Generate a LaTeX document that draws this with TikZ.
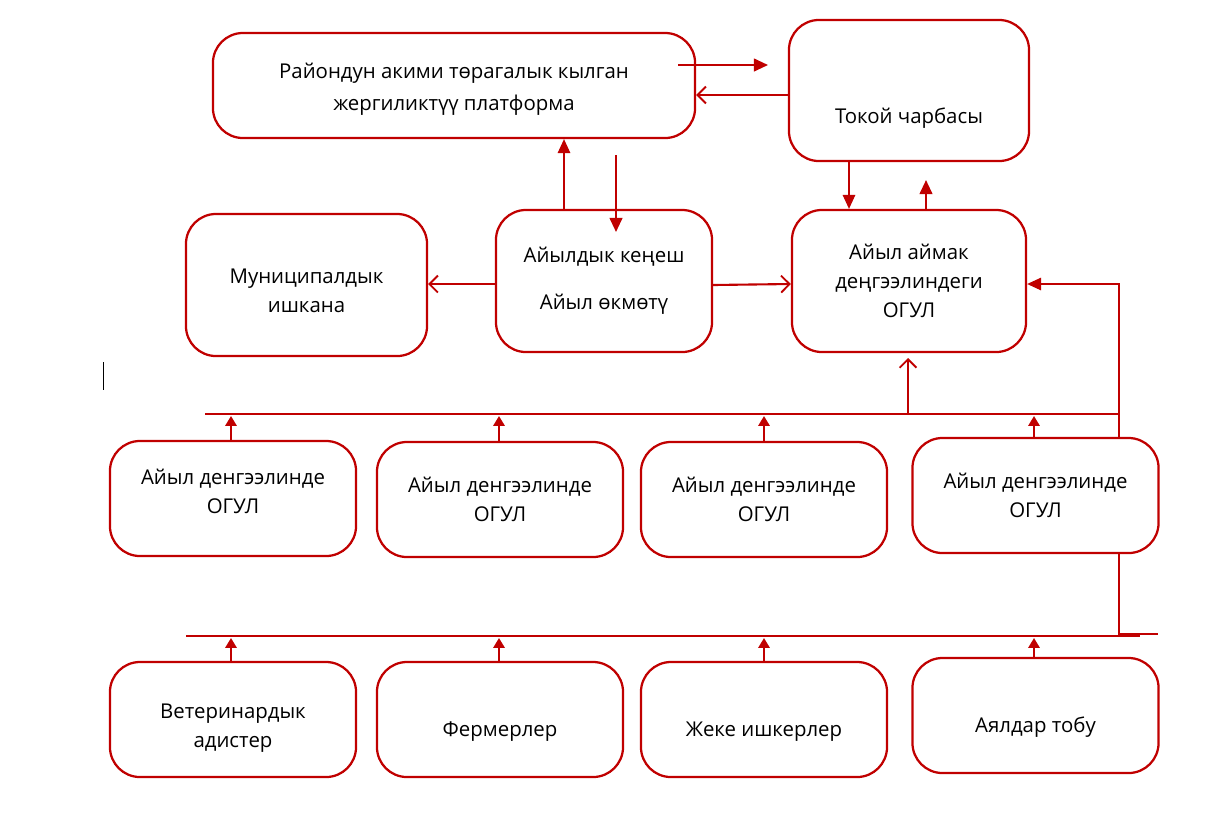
\documentclass[tikz,border=0pt]{standalone}
\usepackage{fontspec}
\setmainfont{Open Sans}
\usepackage{tikz}
\usetikzlibrary{arrows.meta}
\definecolor{dred}{RGB}{192,0,0}
% move a text block up or down inside its box
\newcommand{\moved}[2]{\raisebox{#1}[\height][\depth]{\begin{tabular}{@{}c@{}}#2\end{tabular}}}

\begin{document}
\begin{tikzpicture}[x=0.025cm,y=-0.025cm,
  box/.style={draw=dred,line width=1.6pt,rounded corners=0.75cm,align=center,
    font=\fontsize{14.5}{20.5}\selectfont,inner sep=0pt},
  wide/.style={box,minimum width=6.15cm,minimum height=2.875cm},
  fat/.style={dred,line width=1.5pt},
  thin/.style={dred,line width=0.8pt},
  bus/.style={dred,line width=1pt},
  tri/.style={-{Triangle[length=10pt,width=9pt]}},
  barb/.style={-{Straight Barb[length=6pt,width=12pt,line width=1.3pt]}}]
\useasboundingbox (0,0) rectangle (1223,818);
\node [box,minimum width=12.05cm,minimum height=2.625cm] (v0) at (454,85.5) {\moved{-2.5pt}{Райондун акими төрагалык кылган\\[2.5pt]жергиликтүү платформа}};
\node [box,minimum width=6cm,minimum height=3.525cm] (v1) at (909,90.5) {};
\node [font=\fontsize{14.5}{20.5}\selectfont] (v1t) at (909,118) {Токой чарбасы};
\node [box,minimum width=6.025cm,minimum height=3.55cm] (v2) at (306.5,285) {\moved{-5pt}{Муниципалдык\\ишкана}};
\node [box,minimum width=5.4cm,minimum height=3.55cm] (v3) at (604,281) {Айылдык кеңеш\\[13pt]Айыл өкмөтү};
\node [box,minimum width=5.85cm,minimum height=3.55cm] (v4) at (909,281) {Айыл аймак\\деңгээлиндеги\\ОГУЛ};
\node [wide] (v5) at (233,498.5) {\moved{4pt}{Айыл денгээлинде\\ОГУЛ}};
\node [wide] (v6) at (500,499.5) {Айыл денгээлинде\\ОГУЛ};
\node [wide] (v7) at (764,499.5) {Айыл денгээлинде\\ОГУЛ};
\node [wide] (v8) at (1035.5,495.5) {Айыл денгээлинде\\ОГУЛ};
\node [wide] (v9) at (233,719.5) {\moved{-5.5pt}{Ветеринардык\\адистер}};
\node [wide] (v10) at (500,719.5) {\moved{-8pt}{Фермерлер}};
\node [wide] (v11) at (764,719.5) {\moved{-8pt}{Жеке ишкерлер}};
\node [wide] (v12) at (1035.5,715.5) {\moved{-8pt}{Аялдар тобу}};
% free ends
\coordinate (a1) at (678,65);
\coordinate (a2) at (768,65);
\coordinate (d1) at (616,155);
\coordinate (d2) at (616,232);
\coordinate (u1) at (926,180);
\coordinate (u2) at (908,414);
\coordinate (u3) at (908,358);
\coordinate (b1s) at (205,414);
\coordinate (b1e) at (1118,414);
\coordinate (b2s) at (186,636);
\coordinate (b2e) at (1140,636);
\coordinate (k1) at (1119,634);
\coordinate (k2) at (1158,634);
\draw [fat,tri] (a1) -- (a2);
\draw [fat,barb] (v1.west |- 0,95) -- (v0.east |- 0,95);
\draw [thin,tri] (v3.north -| 564,0) -- (v0.south -| 564,0);
\draw [fat,tri] (d1) -- (d2);
\draw [fat,barb] (v3.west |- 0,284) -- (v2.east |- 0,284);
\draw [fat,barb] (v3.east |- 0,285) -- (v4.west |- 0,284);
\draw [thin,tri] (v1.south -| 849,0) -- (v4.north -| 849,0);
\draw [fat,tri] (v4.north -| 926,0) -- (u1);
\draw [bus] (b1s) -- (b1e);
\draw [fat,barb] (u2) -- (u3);
\foreach \n/\x in {v5/231,v6/499,v7/764,v8/1034}
  \draw [fat,-{Triangle[length=7pt,width=8pt]}] (\n.north -| \x,0) -- (\x,416);
\draw [thin,tri] (v8.north -| 1119,0) |- (v4.east |- 0,284);
\draw [thin] (v8.south -| 1119,0) -- (k1) -- (k2);
\draw [bus] (b2s) -- (b2e);
\foreach \n/\x in {v9/231,v10/499,v11/764,v12/1034}
  \draw [fat,-{Triangle[length=7pt,width=8pt]}] (\n.north -| \x,0) -- (\x,638);
%\draw [black] (103,362) -- (103,390);
\draw [black,line width=0.7pt] (103,362) -- (103,390);
\end{tikzpicture}
\end{document}
